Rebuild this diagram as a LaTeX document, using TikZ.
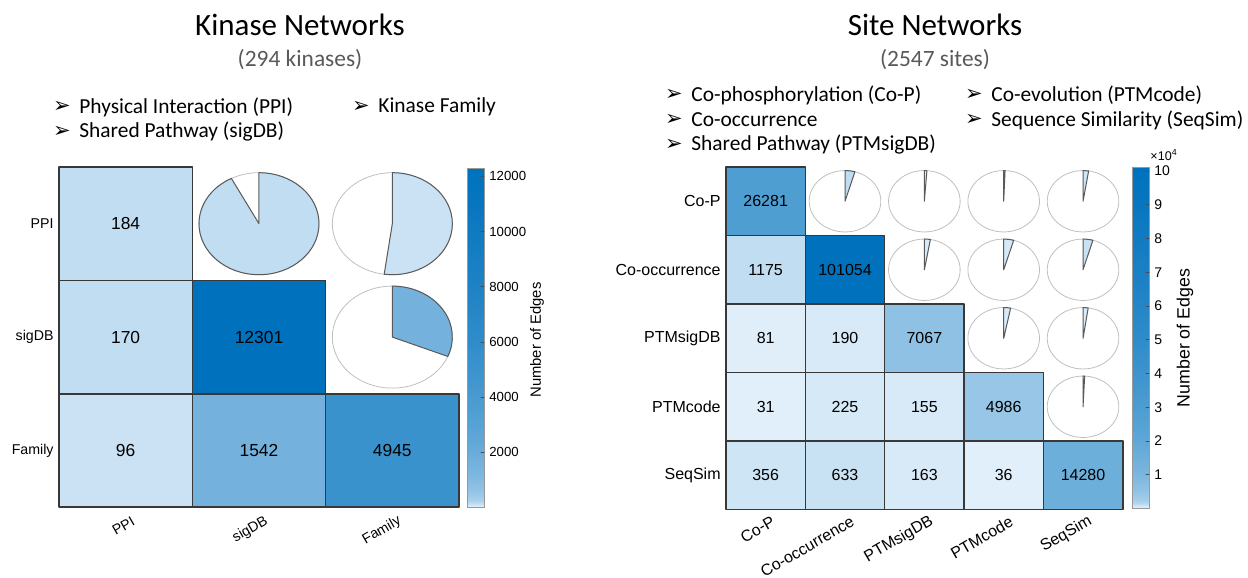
\documentclass[tikz,border=0pt]{standalone}
\usepackage{fontspec}
\setmainfont{Liberation Sans}
\newfontfamily\calibri{Carlito}
\newfontfamily\dejavu{DejaVu Sans}
\definecolor{cblo}{RGB}{232,243,252}
\definecolor{cbhi}{RGB}{0,114,189}
\definecolor{subgray}{RGB}{89,89,89}
\pgfdeclareverticalshading{cbshade}{100bp}{color(0bp)=(cblo); color(25bp)=(cblo);
  color(26bp)=(cbhi!27!cblo); color(27.5bp)=(cbhi!37!cblo); color(30bp)=(cbhi!47!cblo);
  color(35bp)=(cbhi!59!cblo); color(40bp)=(cbhi!67!cblo); color(45bp)=(cbhi!74!cblo);
  color(50bp)=(cbhi!80!cblo); color(55bp)=(cbhi!85!cblo); color(60bp)=(cbhi!89!cblo);
  color(65bp)=(cbhi!93!cblo); color(70bp)=(cbhi!97!cblo); color(75bp)=(cbhi); color(100bp)=(cbhi)}
\begin{document}
\begin{tikzpicture}[x=0.5pt, y=-0.5pt, line join=round, line cap=round,
  hcell/.style={draw=black!78, line width=0.8pt},
  pierim/.style={draw=black!25, line width=0.4pt},
  piecut/.style={draw=black!65, line width=0.5pt},
  cbar/.style={draw=black!40, line width=0.4pt},
  ttl/.style={font=\calibri\fontsize{15.5}{18}\selectfont, inner sep=0pt},
  subttl/.style={font=\calibri\fontsize{11.7}{14}\selectfont, text=subgray, inner sep=0pt},
  itm/.style={font=\calibri\fontsize{10.7}{13}\selectfont, anchor=west, inner sep=0pt},
  bul/.style={font=\dejavu\fontsize{10.5}{12}\selectfont, inner sep=0pt},
  klab/.style={font=\fontsize{7.1}{8}\selectfont, inner sep=0pt},
  slab/.style={font=\fontsize{8}{9}\selectfont, inner sep=0pt},
  knum/.style={font=\fontsize{8.7}{10}\selectfont},
  snum/.style={font=\fontsize{8}{9}\selectfont},
  tick/.style={font=\fontsize{6.6}{8}\selectfont, inner sep=0pt, anchor=west}]
\useasboundingbox (0,0) rectangle (1248,578);
% ---- titles and legends
\node[ttl] (kt) at (300,25) {Kinase Networks};
\node[subttl] (ks) at (300,60) {(294 kinases)};
\node[ttl] (st) at (935,25) {Site Networks};
\node[subttl] (ss) at (935,60) {(2547 sites)};
\foreach \x/\y/\txt [count=\i] in {79/107/Physical Interaction (PPI), 79/132/Shared Pathway (sigDB),
  378/107/Kinase Family, 691/95/Co-phosphorylation (Co-P), 691/120/Co-occurrence,
  691/145/Shared Pathway (PTMsigDB), 991/95/Co-evolution (PTMcode), 991/120/Sequence Similarity (SeqSim)}{
  \node[itm] (it\i) at (\x,\y) {\txt};
  \node[bul] (bu\i) at ({\x-17},\y) {➢};
}
% ---- kinase networks
\def\lx{59} \def\ly{167} \def\lw{133.33} \def\lh{113.4}
\def\lrx{60} \def\lry{51}
\foreach \r/\c/\v/\t in {0/0/184/17, 1/0/170/17, 1/1/12301/100, 2/0/96/13, 2/1/1542/50, 2/2/4945/75}
  \draw[hcell, fill=cbhi!\t!cblo] ({\lx+\c*\lw},{\ly+\r*\lh}) rectangle ++(\lw,\lh) node[midway, knum] (k\r\c) {\v};
\foreach \r/\c/\s/\t in {0/1/332.6/17, 0/2/187.8/13, 1/2/112.3/50}{
  \coordinate (kp\r\c) at ({\lx+(\c+0.5)*\lw},{\ly+(\r+0.5)*\lh});
  \draw[pierim] (kp\r\c) ellipse [x radius=\lrx, y radius=\lry];
  \draw[piecut, fill=cbhi!\t!cblo] (kp\r\c) -- ++(0,-\lry)
    arc[start angle=-90, end angle={-90+\s}, x radius=\lrx, y radius=\lry] -- cycle;
}
\foreach \n [count=\i from 0] in {PPI,sigDB,Family}{
  \node[klab, anchor=east] (kr\i) at (54,{\ly+(\i+0.5)*\lh}) {\n};
  \node[klab, anchor=east, rotate=30] (kc\i) at ({\lx+(\i+0.5)*\lw+8},520) {\n};
}
% colour bar
\def\kbx{467} \def\kbw{17} \def\kbt{168} \def\kbb{507.5}
\shade[shading=cbshade, cbar] (\kbx,\kbt) rectangle ({\kbx+\kbw},\kbb);
\draw[cbar] (\kbx,\kbt) rectangle ({\kbx+\kbw},\kbb);
\foreach \v in {2000,4000,...,12000}{
  \pgfmathsetmacro\yy{\kbb-(\kbb-\kbt)*(\v/12301)}
  \draw[black!70, line width=0.4pt] ({\kbx+\kbw},\yy) -- ++(-3,0);
  \node[tick] (kb\v) at ({\kbx+\kbw+5},\yy) {\v};
}
\node[klab, font=\fontsize{7.4}{8}\selectfont, rotate=90] (ke) at (537,340) {Number of Edges};
% ---- site networks
\def\sx{726} \def\sy{167} \def\sw{79.34} \def\sh{68.5}
\def\srx{35.8} \def\sry{30.7}
\foreach \r/\c/\v/\t in {0/0/26281/66, 1/0/1175/17, 1/1/101054/100,
  2/0/81/4, 2/1/190/7, 2/2/7067/39, 3/0/31/3, 3/1/225/8, 3/2/155/7, 3/3/4986/35,
  4/0/356/11, 4/1/633/14, 4/2/163/7, 4/3/36/3, 4/4/14280/53}
  \draw[hcell, fill=cbhi!\t!cblo] ({\sx+\c*\sw},{\sy+\r*\sh}) rectangle ++(\sw,\sh) node[midway, snum] (s\r\c) {\v};
\foreach \r/\c/\s/\t in {0/1/16.1/17, 0/2/4.1/4, 0/3/2.2/3, 0/4/9.0/11, 1/2/9.7/7,
  1/3/16.2/8, 1/4/16.0/14, 2/3/11.2/7, 2/4/8.3/7, 3/4/2.6/3}{
  \coordinate (sp\r\c) at ({\sx+(\c+0.5)*\sw},{\sy+(\r+0.5)*\sh});
  \draw[pierim] (sp\r\c) ellipse [x radius=\srx, y radius=\sry];
  \draw[piecut, fill=cbhi!\t!cblo] (sp\r\c) -- ++(0,-\sry)
    arc[start angle=-90, end angle={-90+\s}, x radius=\srx, y radius=\sry] -- cycle;
}
\foreach \n [count=\i from 0] in {Co-P,Co-occurrence,PTMsigDB,PTMcode,SeqSim}{
  \node[slab, anchor=east] (sr\i) at (721,{\sy+(\i+0.5)*\sh}) {\n};
  \node[slab, anchor=east, rotate=30] (sc\i) at ({\sx+(\i+0.5)*\sw+8},520) {\n};
}
% colour bar (x 10^4)
\def\sbx{1132} \def\sbw{17} \def\sbt{167.5} \def\sbb{508.5}
\shade[shading=cbshade, cbar] (\sbx,\sbt) rectangle ({\sbx+\sbw},\sbb);
\draw[cbar] (\sbx,\sbt) rectangle ({\sbx+\sbw},\sbb);
\foreach \k in {1,...,10}{
  \pgfmathsetmacro\yy{\sbb-(\sbb-\sbt)*\k/10.1054}
  \draw[black!70, line width=0.4pt] ({\sbx+\sbw},\yy) -- ++(-3,0);
  \node[tick, font=\fontsize{7}{8}\selectfont] (sb\k) at ({\sbx+\sbw+5},\yy) {\k};
}
\node[tick, font=\fontsize{6.3}{7}\selectfont] (sx4) at (1150,155) {×10\textsuperscript{4}};
\node[slab, font=\fontsize{8.9}{10}\selectfont, rotate=90] (se) at (1185,338) {Number of Edges};
\end{tikzpicture}
\end{document}
